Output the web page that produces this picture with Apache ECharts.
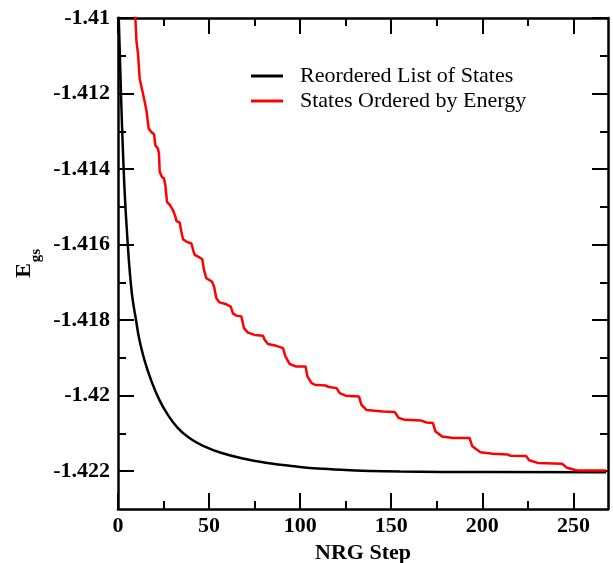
<!DOCTYPE html>
<html>
<head>
<meta charset="utf-8">
<script src="https://cdn.jsdelivr.net/npm/echarts@6/dist/echarts.min.js"></script>
<style>html,body{margin:0;padding:0;background:#fff}#c{width:613px;height:563px}</style>
</head>
<body>
<div id="c"></div>
<script>
// ---- data ----
const seriesNames = ['Reordered List of States', 'States Ordered by Energy'];
const blackSteps = [0, 0.4, 3.1, 5.5, 7.0, 8.06, 9.87, 11.74, 14.48, 18.1, 22.7, 27.3, 32.75, 39.2, 47.4, 56.5, 69.3, 82.1, 96.8, 109.6, 155, 200, 268];
const blackE = [-1.4094, -1.4100, -1.4140, -1.4161, -1.4170, -1.41746, -1.41799, -1.41852, -1.41905, -1.41958, -1.42011, -1.4205, -1.42085, -1.42112, -1.42134, -1.42151, -1.42167, -1.42178, -1.42187, -1.42193, -1.42201, -1.42202, -1.42203];
const redSteps = [8.5, 9.55, 10.1, 11.0, 11.9, 13.7, 15.6, 16.85, 18.3, 19.8, 20.5, 21.95, 22.5, 22.9, 24.15, 25.25, 26.0, 26.9, 28.4, 30.2, 31.5, 32.05, 33.9, 34.8, 35.7, 37.5, 40.3, 41.2, 42.1, 44.8, 46.3, 47.2, 48.5, 51.6, 52.7, 54.0, 55.8, 59.5, 61.9, 63.1, 65.0, 67.7, 69.15, 71.35, 75.0, 79.6, 80.5, 82.3, 86.9, 90.6, 91.9, 94.2, 97.9, 103.0, 104.0, 106.15, 108.0, 114.0, 115.8, 120.0, 121.7, 125.0, 132.3, 133.6, 136.5, 145.4, 151.9, 154.1, 157.6, 166.5, 169.4, 172.9, 174.2, 177.9, 183.9, 193.0, 194.5, 199.0, 205.8, 214.0, 215.5, 224.1, 225.7, 230.4, 243.8, 246.5, 252.0, 268.0];
const redE = [-1.4097, -1.41002, -1.41059, -1.41095, -1.41161, -1.412, -1.41244, -1.41293, -1.41302, -1.41308, -1.41337, -1.41346, -1.41359, -1.41407, -1.41421, -1.41425, -1.41443, -1.41487, -1.41495, -1.41509, -1.41526, -1.41537, -1.41542, -1.41566, -1.41586, -1.41592, -1.41597, -1.41614, -1.41627, -1.41634, -1.41639, -1.41667, -1.41689, -1.41698, -1.41711, -1.41742, -1.41753, -1.41758, -1.41764, -1.41782, -1.41788, -1.4179, -1.41821, -1.41833, -1.41839, -1.41841, -1.41852, -1.41863, -1.41868, -1.41874, -1.41896, -1.41916, -1.41923, -1.41923, -1.41949, -1.41966, -1.41971, -1.41973, -1.41977, -1.4198, -1.41993, -1.42, -1.42002, -1.42024, -1.42038, -1.42042, -1.42043, -1.42059, -1.42064, -1.42066, -1.42071, -1.42072, -1.42094, -1.42108, -1.42112, -1.42112, -1.42134, -1.4215, -1.42154, -1.42156, -1.42159, -1.4216, -1.42171, -1.42178, -1.4218, -1.42191, -1.42198, -1.42198];
const xMajorTicks = [0, 50, 100, 150, 200, 250];
const xMinorTicks = [25, 75, 125, 175, 225];
const yMajorTicks = [-1.422, -1.42, -1.418, -1.416, -1.414, -1.412, -1.41];
const yMinorTicks = [-1.421, -1.419, -1.417, -1.415, -1.413, -1.411];
const xMin = 0, xMax = 269, yMin = -1.423, yMax = -1.41;

const zip = (a, b) => a.map((v, i) => [v, b[i]]);
const FONT = '"Liberation Serif","Times New Roman",serif';
const AX = '#000';

function xAx(pos, ticks, len, labels, line) {
  return {
    type: 'value', position: pos, min: xMin, max: xMax, interval: 50,
    axisLine: { show: line, onZero: false, lineStyle: { color: AX, width: 2.5 } },
    axisTick: { show: true, inside: true, length: len, customValues: ticks, lineStyle: { color: AX, width: 2 } },
    axisLabel: labels ? { show: true, customValues: ticks, margin: 6, fontFamily: FONT, fontWeight: 'bold', fontSize: 22, color: '#000' } : { show: false },
    splitLine: { show: false }
  };
}
function yAx(pos, ticks, len, labels, line) {
  return {
    type: 'value', position: pos, min: yMin, max: yMax, interval: 0.001,
    axisLine: { show: line, onZero: false, lineStyle: { color: AX, width: 2.5 } },
    axisTick: { show: true, inside: true, length: len, customValues: ticks, lineStyle: { color: AX, width: 2 } },
    axisLabel: labels ? { show: true, customValues: ticks, margin: 8, fontFamily: FONT, fontWeight: 'bold', fontSize: 22, color: '#000',
      formatter: v => String(+(+v).toFixed(3)) } : { show: false },
    splitLine: { show: false }
  };
}

const chart = echarts.init(document.getElementById('c'), null, { renderer: 'canvas' });
chart.setOption({
  animation: false,
  backgroundColor: '#fff',
  grid: { left: 118, right: 5, top: 18, bottom: 54, containLabel: false, outerBoundsMode: 'none' },
  xAxis: [
    Object.assign(xAx('bottom', xMajorTicks, 16, true, true), { name: 'NRG Step', nameLocation: 'middle', nameGap: 32,
      nameTextStyle: { fontFamily: FONT, fontWeight: 'bold', fontSize: 22, color: '#000' } }),
    xAx('bottom', xMinorTicks, 8, false, false),
    xAx('top', xMajorTicks, 16, false, true),
    xAx('top', xMinorTicks, 8, false, false)
  ],
  yAxis: [
    yAx('left', yMajorTicks, 16, true, true),
    yAx('left', yMinorTicks, 8, false, false),
    yAx('right', yMajorTicks, 16, false, true),
    yAx('right', yMinorTicks, 8, false, false)
  ],
  legend: {
    orient: 'vertical', left: 246, top: 60, itemGap: 3,
    icon: 'rect', itemWidth: 32, itemHeight: 3,
    textStyle: { fontFamily: FONT, fontSize: 22, color: '#000', padding: [0, 0, 0, 12] },
    data: seriesNames
  },
  graphic: [
    { type: 'text', x: 24, y: 270.5, rotation: Math.PI / 2,
      style: { text: 'E', font: 'bold 22px ' + FONT, fill: '#000', textAlign: 'center', textVerticalAlign: 'middle' } },
    { type: 'text', x: 36.5, y: 255.5, rotation: Math.PI / 2,
      style: { text: 'gs', font: 'bold 15px ' + FONT, fill: '#000', textAlign: 'center', textVerticalAlign: 'middle' } }
  ],
  series: [
    { name: seriesNames[0], type: 'line', xAxisIndex: 0, yAxisIndex: 0, data: zip(blackSteps, blackE),
      symbol: 'none', smooth: 0.5, clip: true,
      lineStyle: { color: '#000', width: 2.5 }, itemStyle: { color: '#000' } },
    { name: seriesNames[1], type: 'line', xAxisIndex: 0, yAxisIndex: 0, data: zip(redSteps, redE),
      symbol: 'none', smooth: false, clip: true,
      lineStyle: { color: '#ff0000', width: 2.5 }, itemStyle: { color: '#ff0000' } }
  ]
});
</script>
</body>
</html>
